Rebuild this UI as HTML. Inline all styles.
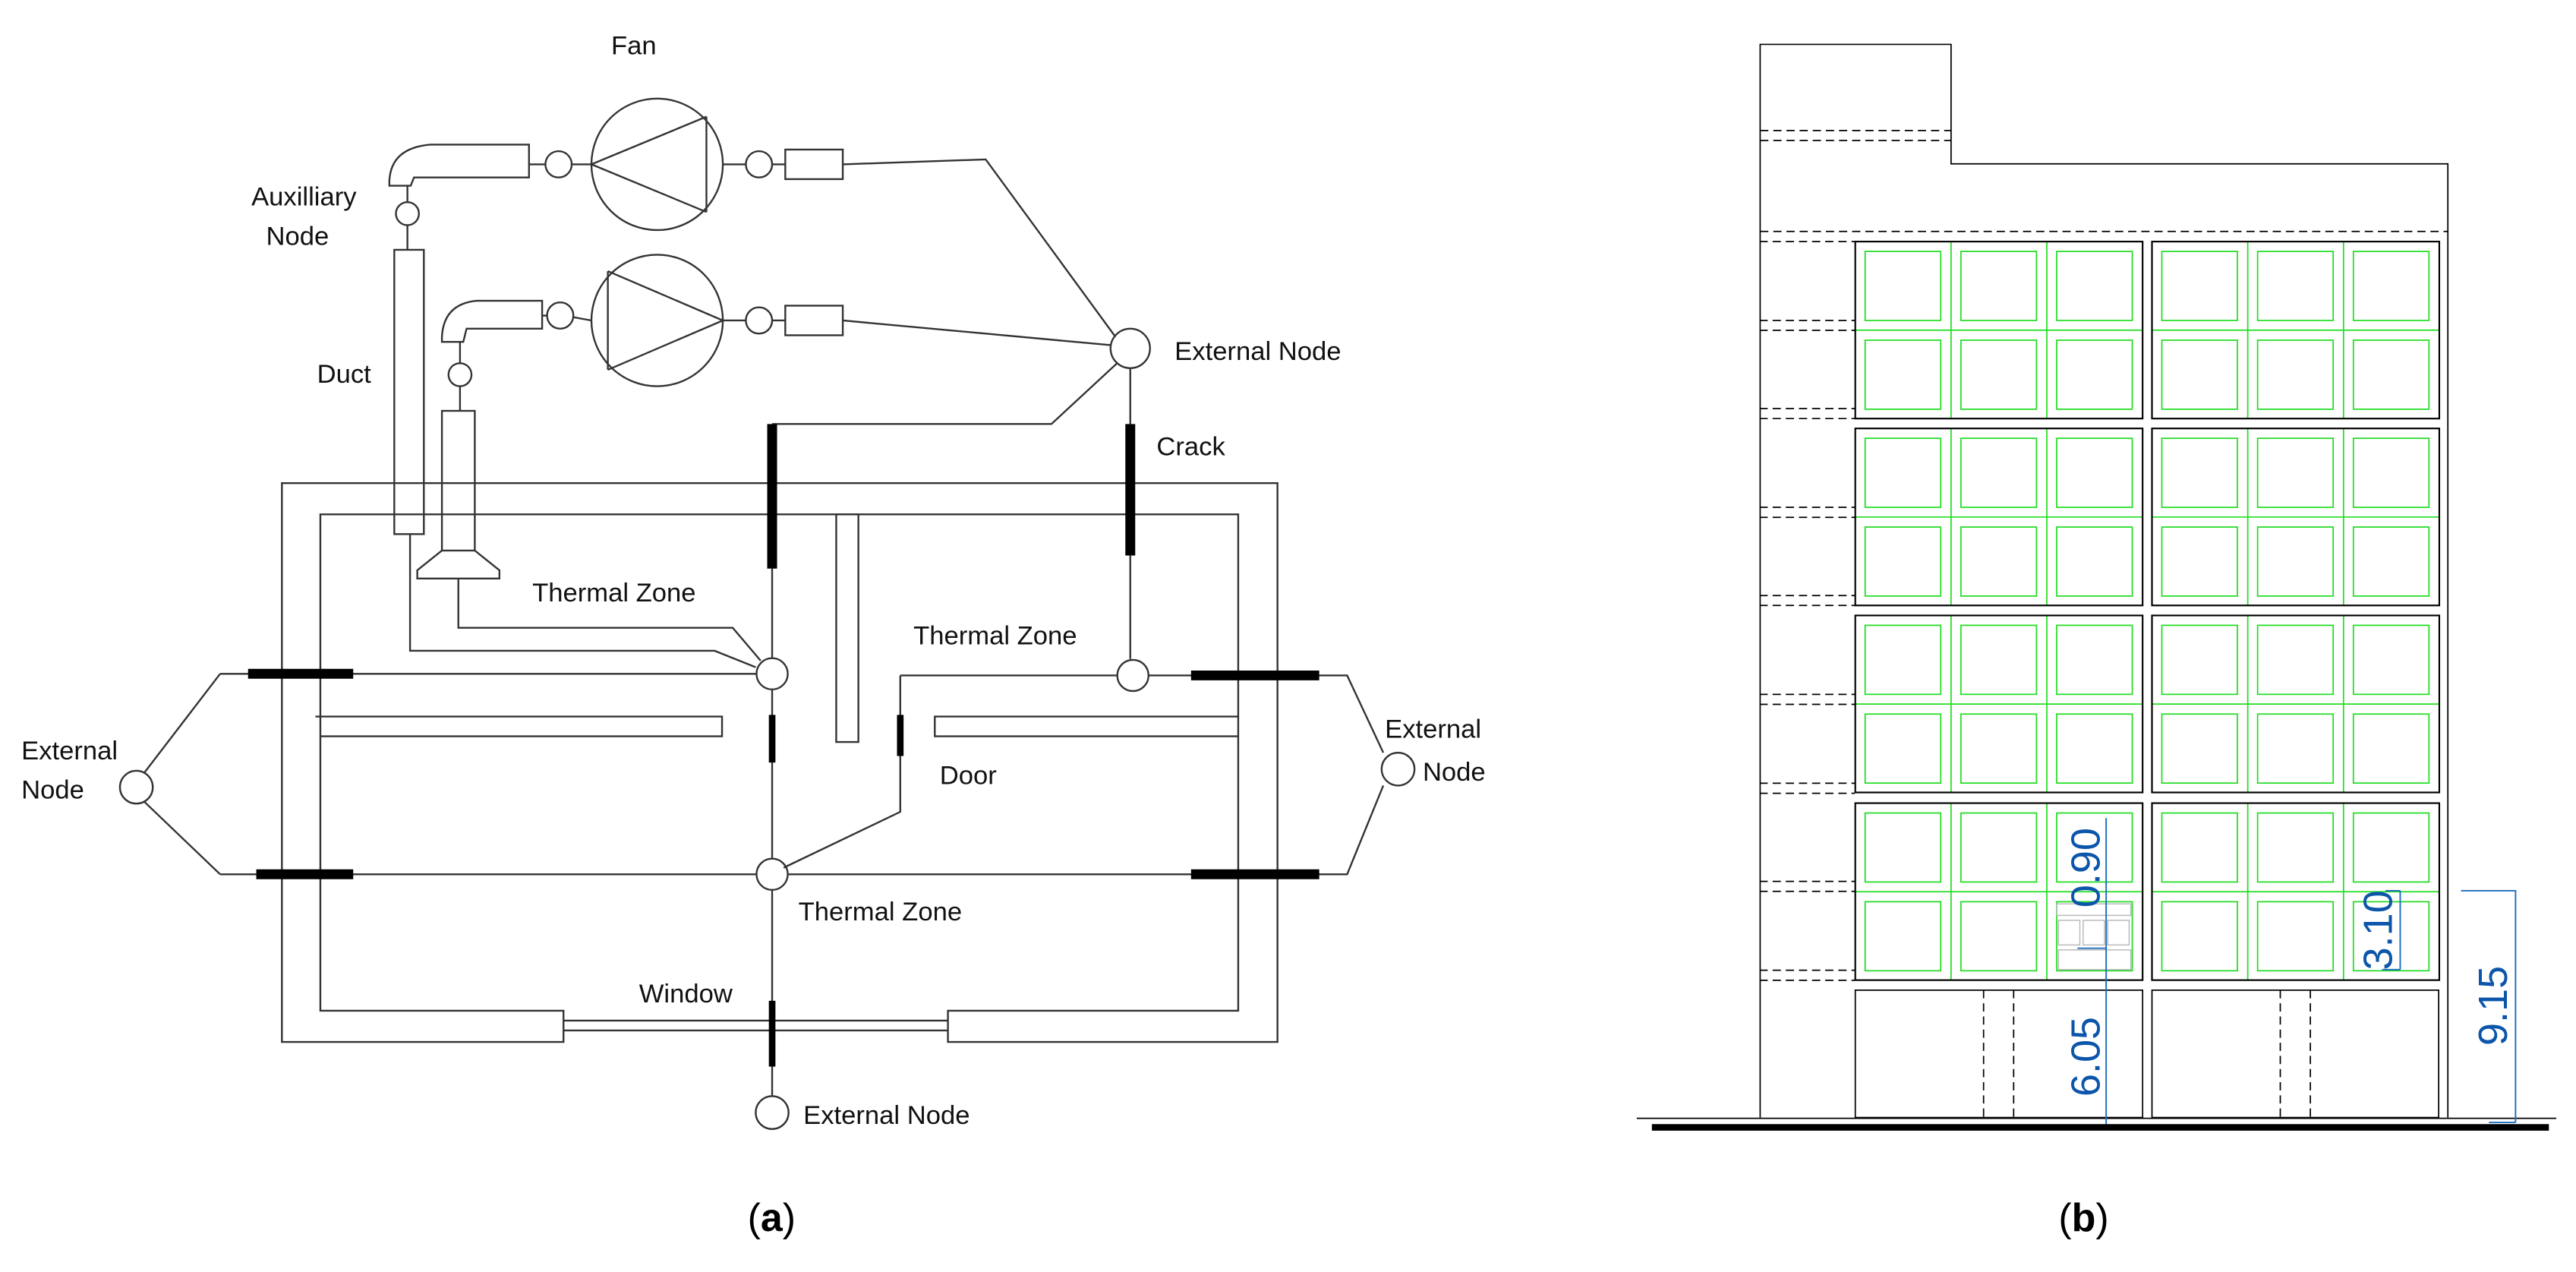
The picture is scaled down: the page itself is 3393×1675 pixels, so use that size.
<!DOCTYPE html>
<html><head><meta charset="utf-8"><style>
html,body{margin:0;padding:0;background:#fff;}
svg{display:block;}
text{font-family:"Liberation Sans",sans-serif;}
</style></head><body>
<svg width="3393" height="1675" viewBox="0 0 1568 774" preserveAspectRatio="none" xmlns="http://www.w3.org/2000/svg">
<rect width="1568" height="774" fill="#fff"/>
<g fill="none" stroke="#333" stroke-width="1.1">
<circle cx="400" cy="100" r="40"/>
<path d="M360,100 L430,71 M360,100 L430,129 M430,71 L430,129"/>
<path d="M322,88 L262,88 Q238,90 237,110 L237,113 L250,113 L252,108 L322,108 Z"/>
<path d="M322,100 L332,100 M348,100 L360,100"/>
<circle cx="340" cy="100" r="8"/>
<path d="M248,113 L248,123 M248,137 L248,152"/>
<circle cx="248" cy="130" r="7"/>
<rect x="240" y="152" width="18" height="173"/>
<path d="M440,100 L454,100 M470,100 L478,100"/>
<circle cx="462" cy="100" r="8"/>
<rect x="478" y="91" width="35" height="18"/>
<path d="M513,100 L600,97 L679,205"/>
<circle cx="400" cy="195" r="40"/>
<path d="M440,195 L370,165 M440,195 L370,225 M370,165 L370,225"/>
<path d="M330,183 L290,183 Q270,185 269,205 L269,208 L282,208 L284,200 L330,200 Z"/>
<path d="M330,192 L333,192 M349,193 L360,195"/>
<circle cx="341" cy="192" r="8"/>
<path d="M280,208 L280,221 M280,235 L280,250"/>
<circle cx="280" cy="228" r="7"/>
<rect x="269" y="250" width="20" height="85"/>
<path d="M269,335 L254,347 L254,352 L304,352 L304,347 L289,335"/>
<path d="M440,195 L454,195 M470,195 L478,195"/>
<circle cx="462" cy="195" r="8"/>
<rect x="478" y="186" width="35" height="18"/>
<path d="M513,195 L676,210"/>
<circle cx="688" cy="212" r="12"/>
<path d="M688,224 L688,258 M688,338 L688,401"/>
<path d="M680,221 L640,258 L470,258"/>
<path d="M470,346 L470,400"/>
<path d="M343,634 L171.6,634 L171.6,294 L777.6,294 L777.6,634 L577,634 L577,615 L753.7,615 L753.7,313 L195,313 L195,615 L343,615 Z"/>
<path d="M343,621 L577,621 M343,627 L577,627"/>
<path d="M192,436 L439.5,436 L439.5,448 L195,448"/>
<path d="M754,436 L569,436 L569,448 L754,448"/>
<rect x="509" y="313" width="13.5" height="138.5"/>
<path d="M279,352 L279,382 L446,382 L463,402"/>
<path d="M249.6,325 L249.6,396 L435,396 L460,406"/>
<circle cx="470" cy="410" r="9.5"/>
<circle cx="689.6" cy="411" r="9.5"/>
<circle cx="470" cy="532" r="9.5"/>
<path d="M134,410 L460.5,410 M134,410 L88,470"/>
<path d="M134,532 L460.5,532 M134,532 L88,488"/>
<path d="M479.5,532 L820,532 L842,478"/>
<path d="M699,411 L820,411 L842,458"/>
<path d="M548,411 L680,411 M548,411 L548,494 L477,528"/>
<path d="M470,419.5 L470,522.5 M470,541.5 L470,667"/>
<circle cx="83" cy="479" r="10"/>
<circle cx="851" cy="468" r="10"/>
<circle cx="470" cy="677" r="10"/>
</g>
<g stroke="#000" stroke-width="6" fill="none">
<path d="M688,258 L688,338"/>
<path d="M470,258 L470,346"/>
<path d="M151,410 L215,410 M156,532 L215,532"/>
<path d="M725,411 L803,411 M725,532 L803,532"/>
<path d="M470,435 L470,464" stroke-width="4"/>
<path d="M548,435 L548,460" stroke-width="4"/>
<path d="M470,609 L470,649" stroke-width="4"/>
</g>
<g font-size="16" fill="#111">
<text x="372" y="33">Fan</text>
<text x="153" y="125">Auxilliary</text>
<text x="162" y="149">Node</text>
<text x="193" y="233">Duct</text>
<text x="715" y="219">External Node</text>
<text x="704" y="277">Crack</text>
<text x="324" y="366">Thermal  Zone</text>
<text x="556" y="392">Thermal  Zone</text>
<text x="486" y="560">Thermal  Zone</text>
<text x="572" y="477">Door</text>
<text x="389" y="610">Window</text>
<text x="489" y="684">External Node</text>
<text x="13" y="462">External</text>
<text x="13" y="486">Node</text>
<text x="843" y="449">External</text>
<text x="866" y="475">Node</text>
</g>
<g fill="none" stroke="#000" stroke-width="0.8">
<path d="M1071.4,680 L1071.4,27 L1187.6,27 L1187.6,99.7 L1490,99.7 L1490,680"/>
<path d="M996.3,680.5 L1556,680.5"/>
</g>
<rect x="1005.5" y="684" width="546" height="4" fill="#000"/>
<g stroke="#000" stroke-width="0.8" stroke-dasharray="5,3" fill="none">
<path d="M1071.4,79.4 L1187.6,79.4 M1071.4,85.5 L1187.6,85.5 M1071.4,140.8 L1490,140.8"/>
<path d="M1071,147 L1129,147 M1071,195 L1129,195 M1071,201 L1129,201 M1071,248.6 L1129,248.6 M1071,254.7 L1129,254.7 M1071,308.7 L1129,308.7 M1071,314.8 L1129,314.8 M1071,362.4 L1129,362.4 M1071,368.4 L1129,368.4 M1071,422.5 L1129,422.5 M1071,428.6 L1129,428.6 M1071,476.6 L1129,476.6 M1071,482.7 L1129,482.7 M1071,536.3 L1129,536.3 M1071,542.4 L1129,542.4 M1071,590.4 L1129,590.4 M1071,596.5 L1129,596.5"/>
<path d="M1207.4,602.5 L1207.4,680 M1225.7,602.5 L1225.7,680 M1388,602.5 L1388,680 M1406.3,602.5 L1406.3,680"/>
</g>
<g fill="none" stroke="#000" stroke-width="0.8">
<rect x="1129.3" y="602.5" width="174.9" height="77.5"/>
<rect x="1309.9" y="602.5" width="174.5" height="77.5"/>
</g>
<g>
<g id="P1" transform="translate(1129.3,147)">
<g stroke="#22dd22" stroke-width="0.8" fill="none">
<path d="M58.3,0 V107.7 M116.6,0 V107.7 M0,53.9 H174.9"/>
<rect x="6" y="6" width="46" height="42"/><rect x="64.3" y="6" width="46" height="42"/><rect x="122.6" y="6" width="46" height="42"/>
<rect x="6" y="60" width="46" height="42"/><rect x="64.3" y="60" width="46" height="42"/><rect x="122.6" y="60" width="46" height="42"/>
</g>
<rect x="0" y="0" width="174.9" height="107.7" fill="none" stroke="#000" stroke-width="1"/>
</g>
<use href="#P1" x="180.6" y="0"/>
<use href="#P1" x="0" y="113.7"/>
<use href="#P1" x="180.6" y="113.7"/>
<use href="#P1" x="0" y="227.5"/>
<use href="#P1" x="180.6" y="227.5"/>
<use href="#P1" x="0" y="341.7"/>
<use href="#P1" x="180.6" y="341.7"/>
</g>
<g fill="#fff" stroke="#bbb" stroke-width="0.7">
<rect x="1252" y="550" width="45" height="7"/>
<rect x="1253" y="560" width="13" height="15"/><rect x="1268" y="560" width="13" height="15"/><rect x="1283" y="560" width="13" height="15"/>
<rect x="1253" y="578" width="44" height="12"/>
</g>
<g stroke="#1f6fc0" stroke-width="0.9" fill="none">
<path d="M1282,497.8 L1282,684 M1264.5,577 L1282,577"/>
<path d="M1461,542 L1461,590 M1452,542 L1461,542 M1450,590 L1461,590"/>
<path d="M1531.2,542 L1531.2,683 M1498,542 L1531.6,542 M1515,683 L1531.2,683"/>
</g>
<g fill="#0b55aa" font-size="25">
<text transform="translate(1278,528) rotate(-90)" text-anchor="middle">0.90</text>
<text transform="translate(1278,643) rotate(-90)" text-anchor="middle">6.05</text>
<text transform="translate(1456,566) rotate(-90)" text-anchor="middle">3.10</text>
<text transform="translate(1526,612) rotate(-90)" text-anchor="middle">9.15</text>
</g>
<g font-family="'Liberation Serif',serif" font-size="24" fill="#000">
<text x="455" y="749">(<tspan font-weight="bold">a</tspan>)</text>
<text x="1253" y="749">(<tspan font-weight="bold">b</tspan>)</text>
</g>
</svg>
</body></html>
